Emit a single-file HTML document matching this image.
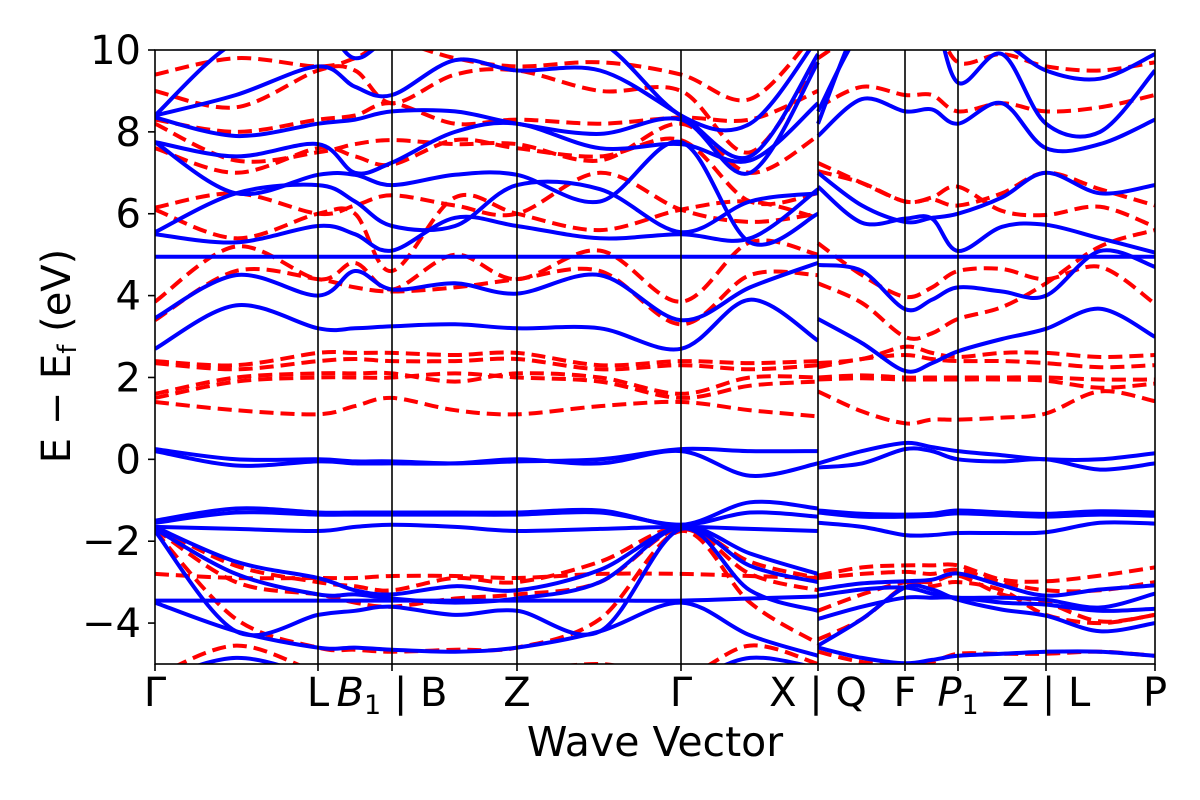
<!DOCTYPE html>
<html><head><meta charset="utf-8"><style>
html,body{margin:0;padding:0;background:#fff;}
svg{display:block;font-family:"DejaVu Sans","Liberation Sans",sans-serif;}
</style></head><body>
<svg id="chart" width="1200" height="800" viewBox="0 0 1200 800">
<defs><clipPath id="plotclip"><rect x="155" y="50" width="1000" height="614"/></clipPath></defs>
<g id="bands" clip-path="url(#plotclip)"></g>
<g id="vlines"></g>
<rect x="155" y="50" width="1000" height="614" fill="none" stroke="#000" stroke-width="1.6"/>
<g id="yticks"></g>
<g id="xticks"></g>
<text x="655" y="756" font-size="41" text-anchor="middle">Wave Vector</text>
<text transform="translate(70,356) rotate(-90)" font-size="40" text-anchor="middle">E − E<tspan font-size="26" dy="6">f</tspan><tspan dy="-6"> (eV)</tspan></text>
</svg>
<script>
// k-path sample coordinates (path distance units) for left and right sections
const kLeft = [0,81,163,200,237,300,362,445,526,595,663];
const kRight = [663,707,750,777,803,847,891,945,1000];
const kTicks = [0,163,237,362,526,663,750,803,891,1000];
const kTickLabels = ["Γ","L","B1|B","Z","Γ","X | Q","F","P1","Z | L","P"];
const yTicks = [-4,-2,0,2,4,6,8,10];

const blueLeft = [
[0.25,0.0,0.0,-0.05,-0.05,-0.1,-0.05,0.0,0.25,0.2,0.2],
[0.2,-0.15,-0.05,-0.1,-0.1,-0.1,0.0,-0.1,0.2,-0.4,-0.1],
[-1.5,-1.2,-1.3,-1.3,-1.3,-1.3,-1.3,-1.25,-1.6,-1.05,-1.2],
[-1.55,-1.3,-1.35,-1.35,-1.35,-1.35,-1.35,-1.3,-1.6,-1.3,-1.4],
[-1.65,-1.7,-1.75,-1.65,-1.6,-1.65,-1.75,-1.7,-1.65,-1.7,-1.75],
[-1.65,-2.5,-2.9,-3.2,-3.3,-3.1,-3.2,-2.7,-1.65,-2.3,-2.8],
[-1.7,-2.8,-3.3,-3.3,-3.4,-3.5,-3.4,-3.0,-1.65,-2.6,-3.0],
[-1.75,-4.2,-3.8,-3.7,-3.6,-3.8,-3.7,-4.2,-1.7,-3.2,-3.7],
[-3.45,-3.45,-3.45,-3.45,-3.45,-3.45,-3.45,-3.45,-3.45,-3.4,-3.35],
[-3.5,-4.2,-4.6,-4.6,-4.65,-4.7,-4.6,-4.2,-3.5,-4.3,-4.8],
[-5.4,-4.85,-5.3,-5.4,-5.4,-5.4,-5.3,-5.2,-5.4,-4.85,-5.1],
[4.95,4.95,4.95,4.95,4.95,4.95,4.95,4.95,4.95,4.95,4.95],
[2.7,3.76,3.2,3.2,3.25,3.3,3.2,3.2,2.7,3.9,2.9],
[3.45,4.5,4.0,4.6,4.15,4.3,4.05,4.5,3.4,4.2,4.8],
[5.5,5.3,5.7,5.5,5.1,5.9,5.7,5.4,5.5,5.4,6.6],
[5.55,6.5,6.7,6.3,5.7,5.7,6.7,6.6,5.55,6.3,6.5],
[7.75,6.5,6.95,6.95,6.7,6.95,6.95,6.3,7.75,5.3,6.0],
[7.75,7.4,7.7,7.0,7.25,8.0,8.2,7.6,7.7,7.3,8.7],
[8.35,7.9,8.2,8.3,8.5,8.5,8.2,7.95,8.3,7.0,9.7],
[8.4,8.9,9.6,9.1,8.9,9.75,9.5,9.5,8.4,7.4,9.9],
[8.4,10.2,10.5,9.8,10.3,10.6,10.4,10.2,8.4,8.2,10.3]
];
const redLeft = [
[2.4,2.3,2.6,2.6,2.6,2.55,2.6,2.3,2.4,2.35,2.4],
[2.35,2.2,2.4,2.45,2.4,2.4,2.45,2.2,2.3,2.2,2.3],
[1.6,2.0,2.1,2.1,2.1,1.9,2.1,2.0,1.6,2.0,2.0],
[1.5,1.9,2.0,2.0,2.0,2.1,2.0,1.9,1.5,1.8,1.9],
[1.4,1.2,1.1,1.3,1.5,1.2,1.1,1.3,1.4,1.2,1.05],
[-1.65,-2.6,-3.0,-3.1,-3.2,-2.9,-3.0,-2.5,-1.65,-2.5,-2.9],
[-1.7,-3.0,-3.3,-3.5,-3.6,-3.4,-3.3,-3.0,-1.7,-2.8,-3.2],
[-1.75,-3.9,-4.6,-4.65,-4.7,-4.65,-4.6,-3.9,-1.75,-3.5,-4.5],
[-2.8,-2.9,-2.9,-2.9,-2.85,-2.85,-2.9,-2.8,-2.8,-2.85,-2.9],
[-5.3,-4.55,-5.2,-5.3,-5.3,-5.3,-5.2,-5.0,-5.3,-4.55,-5.0],
[3.85,5.2,4.4,4.8,4.15,5.0,4.4,5.1,3.85,5.3,5.0],
[3.4,4.6,4.4,4.2,4.1,4.2,4.4,4.6,3.3,4.5,4.5],
[6.1,5.4,6.0,6.0,4.6,6.4,6.0,5.6,6.1,6.3,5.9],
[6.15,6.5,6.0,6.2,6.45,6.2,6.0,7.0,6.1,5.8,6.0],
[7.6,7.0,7.6,7.4,7.2,7.8,7.6,7.4,7.8,6.3,6.5],
[8.2,7.3,7.5,7.7,7.8,7.7,7.7,7.3,8.2,7.0,7.9],
[8.3,8.0,8.3,8.4,8.7,8.2,8.3,8.2,8.35,8.3,9.0],
[9.0,8.6,9.5,9.5,8.7,9.4,9.5,9.0,9.0,7.5,9.8],
[9.4,9.8,9.6,9.8,10.2,9.8,9.6,9.7,9.4,8.8,10.5]
];
const blueRight = [
[-0.1,0.2,0.4,0.3,0.2,0.1,0.0,0.0,0.15],
[-0.2,-0.1,0.25,0.2,0.0,-0.05,0.0,-0.25,-0.1],
[-1.25,-1.33,-1.35,-1.33,-1.25,-1.3,-1.33,-1.27,-1.3],
[-1.3,-1.4,-1.4,-1.38,-1.32,-1.36,-1.4,-1.35,-1.38],
[-1.55,-1.65,-1.85,-1.85,-1.8,-1.8,-1.78,-1.55,-1.57],
[-3.18,-3.03,-2.98,-2.94,-2.79,-3.08,-3.33,-3.18,-3.08],
[-3.33,-3.18,-3.13,-3.28,-3.38,-3.38,-3.43,-3.62,-3.28],
[-3.9,-3.6,-3.38,-3.38,-3.38,-3.5,-3.55,-3.7,-3.65],
[-4.55,-3.9,-3.13,-3.18,-3.43,-3.67,-3.82,-4.2,-4.0],
[-4.6,-4.85,-4.98,-4.9,-4.8,-4.75,-4.7,-4.7,-4.8],
[4.95,4.95,4.95,4.95,4.95,4.95,4.95,4.95,4.95],
[3.43,2.84,2.16,2.35,2.64,2.94,3.19,3.68,2.99],
[4.75,4.6,3.67,3.9,4.2,4.1,4.0,5.09,4.7],
[7.0,6.2,5.8,5.9,6.0,6.4,7.0,6.5,6.7],
[6.66,5.78,5.88,5.88,5.09,5.68,5.73,5.4,5.05],
[7.9,8.8,8.5,8.55,8.2,8.7,7.6,7.7,8.3],
[8.5,10.5,11,11,9.2,9.9,8.2,8.0,9.5],
[8.2,10.8,11.5,11.2,10.4,10.2,9.5,9.3,9.9]
];
const redRight = [
[2.35,2.45,2.75,2.6,2.5,2.6,2.6,2.5,2.55],
[2.25,2.45,2.55,2.45,2.4,2.4,2.35,2.25,2.3],
[2.0,2.05,2.0,2.0,2.0,2.0,2.0,1.95,1.95],
[1.95,1.98,1.95,1.95,1.95,1.95,1.92,1.75,1.85],
[1.66,1.17,0.88,0.97,0.97,1.02,1.12,1.66,1.42],
[4.3,3.82,2.99,3.08,3.43,3.72,4.3,5.2,5.6],
[5.28,4.5,3.97,4.2,4.6,4.65,4.4,4.7,3.8],
[7.04,6.75,6.3,6.4,6.66,6.07,5.97,6.17,5.68],
[7.24,6.75,6.3,6.35,6.2,6.5,7.0,6.6,6.2],
[8.6,9.1,8.9,8.9,8.5,8.7,8.5,8.6,8.9],
[9.8,10.5,11,10.8,9.7,9.9,9.6,9.5,9.7],
[-4.7,-4.95,-5.0,-4.95,-4.75,-4.75,-4.75,-4.7,-4.8],
[-2.84,-2.64,-2.59,-2.59,-2.59,-2.94,-2.98,-2.84,-2.64],
[-2.9,-2.8,-2.75,-2.8,-2.7,-3.0,-3.2,-3.2,-3.0],
[-3.7,-3.3,-3.0,-3.0,-2.84,-3.3,-3.5,-3.96,-3.8],
[-4.4,-3.9,-3.1,-3.1,-3.0,-3.2,-3.8,-4.0,-3.8]
];

const X0 = 155, X1 = 1155, Y0 = 664, Y1 = 50, EMIN = -5, EMAX = 10;
function xs(k){ return X0 + (X1 - X0) * k / 1000; }
function ys(e){ return Y0 - (Y0 - Y1) * (e - EMIN) / (EMAX - EMIN); }
const NS = "http://www.w3.org/2000/svg";

function pathFor(ks, vals){
  const p = ks.map((k,i)=>[xs(k), ys(vals[i])]);
  let d = "M" + p[0][0].toFixed(1) + "," + p[0][1].toFixed(1);
  for (let i=0;i<p.length-1;i++){
    const p0 = p[i-1]||p[i], p1=p[i], p2=p[i+1], p3=p[i+2]||p[i+1];
    const c1x = p1[0]+(p2[0]-p0[0])/6, c1y = p1[1]+(p2[1]-p0[1])/6;
    const c2x = p2[0]-(p3[0]-p1[0])/6, c2y = p2[1]-(p3[1]-p1[1])/6;
    d += " C"+c1x.toFixed(1)+","+c1y.toFixed(1)+" "+c2x.toFixed(1)+","+c2y.toFixed(1)+" "+p2[0].toFixed(1)+","+p2[1].toFixed(1);
  }
  return d;
}
const bandsG = document.getElementById("bands");
function drawSet(ks, set, color, dashed, name){
  set.forEach(vals=>{
    const el = document.createElementNS(NS,"path");
    el.setAttribute("d", pathFor(ks, vals));
    el.setAttribute("fill","none");
    el.setAttribute("stroke",color);
    el.setAttribute("stroke-width","4");
    if (dashed) el.setAttribute("stroke-dasharray","14,7");
    
    
    bandsG.appendChild(el);
  });
}
drawSet(kLeft, redLeft, "#ff0000", true, "spin-down-band");
drawSet(kRight, redRight, "#ff0000", true, "spin-down-band");
drawSet(kLeft, blueLeft, "#0000ff", false, "spin-up-band");
drawSet(kRight, blueRight, "#0000ff", false, "spin-up-band");

const vG = document.getElementById("vlines");
const xG = document.getElementById("xticks");
kTicks.forEach((k,i)=>{
  const x = xs(k);
  if (i>0 && i<kTicks.length-1){
    const l = document.createElementNS(NS,"line");
    l.setAttribute("x1",x); l.setAttribute("x2",x); l.setAttribute("y1",50); l.setAttribute("y2",664);
    l.setAttribute("stroke","#000"); l.setAttribute("stroke-width","1.6");
    
    
    vG.appendChild(l);
  }
  const t = document.createElementNS(NS,"line");
  t.setAttribute("x1",x); t.setAttribute("x2",x); t.setAttribute("y1",664); t.setAttribute("y2",671);
  t.setAttribute("stroke","#000"); t.setAttribute("stroke-width","1.6");
  
  
  xG.appendChild(t);
  const tx = document.createElementNS(NS,"text");
  tx.setAttribute("x",x); tx.setAttribute("y",706);
  tx.setAttribute("font-size","40"); tx.setAttribute("text-anchor","middle");
  const lab = kTickLabels[i];
  if (lab === "B1|B"){
    tx.innerHTML = '<tspan font-style="italic">B</tspan><tspan font-size="27" dy="8">1</tspan><tspan dy="-8"> | B</tspan>';
  } else if (lab === "P1"){
    tx.innerHTML = '<tspan font-style="italic">P</tspan><tspan font-size="27" dy="8">1</tspan>';
  } else tx.textContent = lab;
  
  
  xG.appendChild(tx);
});
const yG = document.getElementById("yticks");
yTicks.forEach(v=>{
  const y = ys(v);
  const t = document.createElementNS(NS,"line");
  t.setAttribute("x1",148); t.setAttribute("x2",155); t.setAttribute("y1",y); t.setAttribute("y2",y);
  t.setAttribute("stroke","#000"); t.setAttribute("stroke-width","1.6");
  
  
  yG.appendChild(t);
  const tx = document.createElementNS(NS,"text");
  tx.setAttribute("x",141); tx.setAttribute("y",y+14);
  tx.setAttribute("font-size","40"); tx.setAttribute("text-anchor","end");
  tx.textContent = v < 0 ? "−" + Math.abs(v) : String(v);
  
  
  yG.appendChild(tx);
});
</script>
</body></html>
